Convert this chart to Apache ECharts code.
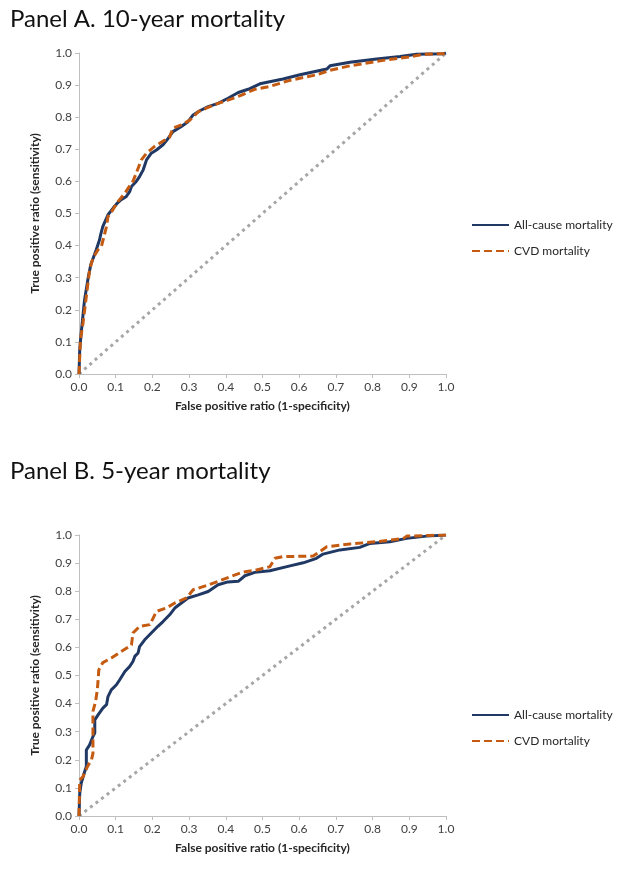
<!DOCTYPE html>
<html>
<head>
<meta charset="utf-8">
<script src="https://cdn.jsdelivr.net/npm/echarts@6/dist/echarts.min.js"></script>
<style>
  html, body { margin: 0; padding: 0; background: #fff; }
  #chart { width: 622px; height: 870px; }
</style>
</head>
<body>
<div id="chart"></div>
<script>
// ROC points, [1-specificity, sensitivity]
var allCauseA = [[0,0],[0.002,0.076],[0.006,0.128],[0.015,0.23],[0.025,0.30],[0.032,0.34],[0.047,0.387],
  [0.056,0.418],[0.059,0.434],[0.065,0.46],[0.079,0.496],[0.093,0.517],[0.106,0.534],[0.115,0.543],
  [0.129,0.553],[0.138,0.568],[0.143,0.584],[0.156,0.60],[0.165,0.615],[0.175,0.636],[0.184,0.667],
  [0.197,0.688],[0.211,0.698],[0.229,0.714],[0.243,0.734],[0.256,0.755],[0.279,0.771],[0.297,0.786],
  [0.311,0.807],[0.329,0.82],[0.352,0.833],[0.379,0.843],[0.406,0.859],[0.434,0.877],[0.461,0.887],
  [0.493,0.904],[0.556,0.919],[0.602,0.932],[0.675,0.95],[0.684,0.96],[0.738,0.971],[0.811,0.981],
  [0.875,0.989],[0.92,0.996],[0.993,0.998],[1,1]];
var cvdA = [[0,0],[0.004,0.107],[0.011,0.159],[0.02,0.242],[0.029,0.325],[0.038,0.361],[0.052,0.387],
  [0.061,0.397],[0.068,0.428],[0.075,0.46],[0.079,0.49],[0.093,0.513],[0.106,0.537],[0.125,0.563],
  [0.134,0.579],[0.147,0.60],[0.156,0.626],[0.17,0.667],[0.184,0.688],[0.206,0.709],[0.234,0.729],
  [0.247,0.738],[0.256,0.766],[0.279,0.776],[0.302,0.791],[0.325,0.817],[0.347,0.828],[0.379,0.843],
  [0.406,0.853],[0.443,0.869],[0.479,0.887],[0.52,0.896],[0.575,0.915],[0.647,0.932],[0.684,0.946],
  [0.738,0.96],[0.829,0.977],[0.902,0.988],[0.938,0.996],[0.993,0.998],[1,1]];
var allCauseB = [[0,0],[0.002,0.081],[0.006,0.116],[0.014,0.152],[0.02,0.176],[0.02,0.235],[0.029,0.253],
  [0.038,0.283],[0.043,0.295],[0.043,0.342],[0.052,0.36],[0.065,0.384],[0.075,0.396],[0.079,0.425],
  [0.088,0.449],[0.102,0.467],[0.111,0.485],[0.125,0.514],[0.138,0.532],[0.147,0.55],[0.152,0.568],
  [0.161,0.58],[0.165,0.603],[0.179,0.627],[0.197,0.651],[0.215,0.675],[0.229,0.692],[0.247,0.716],
  [0.261,0.74],[0.279,0.758],[0.297,0.776],[0.325,0.787],[0.352,0.799],[0.379,0.823],[0.406,0.833],
  [0.434,0.835],[0.452,0.855],[0.479,0.867],[0.52,0.873],[0.575,0.89],[0.611,0.901],[0.647,0.917],
  [0.665,0.932],[0.711,0.947],[0.765,0.956],[0.793,0.97],[0.847,0.976],[0.893,0.988],[0.947,0.996],[1,1]];
var cvdB = [[0,0],[0.002,0.128],[0.011,0.14],[0.023,0.176],[0.034,0.20],[0.038,0.223],[0.038,0.372],
  [0.045,0.407],[0.05,0.449],[0.054,0.52],[0.065,0.546],[0.088,0.562],[0.115,0.585],[0.143,0.609],
  [0.147,0.651],[0.165,0.675],[0.193,0.681],[0.202,0.704],[0.211,0.728],[0.238,0.74],[0.261,0.758],
  [0.293,0.776],[0.311,0.805],[0.347,0.82],[0.379,0.835],[0.415,0.853],[0.447,0.868],[0.479,0.874],
  [0.52,0.887],[0.534,0.917],[0.556,0.923],[0.638,0.925],[0.656,0.941],[0.675,0.958],[0.738,0.968],
  [0.811,0.976],[0.884,0.988],[0.893,0.996],[1,1]];
var diagonal = [[0,0],[1,1]];

var seriesNames = ['All-cause mortality', 'CVD mortality'];
var panelTitles = ['Panel A. 10-year mortality', 'Panel B. 5-year mortality'];
var xName = 'False positive ratio (1-specificity)';
var yName = 'True positive ratio (sensitivity)';

var font = 'Lato, "Open Sans", sans-serif';
var blue = '#203864', orange = '#c55a11';

function axis(gi, isY) {
  return {
    type: 'value', gridIndex: gi, min: 0, max: 1, interval: 0.1,
    name: isY ? yName : xName,
    nameLocation: 'middle',
    nameGap: isY ? 38 : 26,
    nameTextStyle: { fontFamily: font, fontWeight: 'bold', fontSize: 12, color: '#262626' },
    axisLine: { lineStyle: { color: '#bfbfbf', width: 1 } },
    axisTick: { show: true, length: 4, lineStyle: { color: '#bfbfbf' } },
    splitLine: { show: false },
    axisLabel: { fontFamily: font, fontSize: 12, color: '#404040', margin: 7,
      formatter: function (v) { return v.toFixed(1); } }
  };
}

function roc(name, data, gi, color, dashed) {
  return {
    name: name, type: 'line', data: data, xAxisIndex: gi, yAxisIndex: gi,
    symbol: 'circle', symbolSize: 0, showSymbol: false, z: dashed ? 4 : 3,
    lineStyle: { color: color, width: 3, type: dashed ? [8, 4] : 'solid' },
    itemStyle: { color: color, opacity: 0 }
  };
}

function diag(gi) {
  return {
    type: 'line', data: diagonal, xAxisIndex: gi, yAxisIndex: gi, symbol: 'none', z: 1,
    lineStyle: { color: '#a6a6a6', width: 3, type: [3, 4] }, silent: true
  };
}

function legend(top) {
  return {
    data: seriesNames, orient: 'vertical', left: 466, top: top, itemGap: 14,
    itemWidth: 37, itemHeight: 4,
    textStyle: { fontFamily: font, fontSize: 12, color: '#262626' }
  };
}

var chart = echarts.init(document.getElementById('chart'), null, { renderer: 'canvas' });
chart.setOption({
  backgroundColor: '#fff',
  animation: false,
  title: [
    { text: panelTitles[0], left: 5, top: 2, textStyle: { fontFamily: font, fontWeight: 'normal', fontSize: 24, color: '#111' } },
    { text: panelTitles[1], left: 5, top: 454, textStyle: { fontFamily: font, fontWeight: 'normal', fontSize: 24, color: '#111' } }
  ],
  legend: [legend(214), legend(704)],
  grid: [
    { left: 79, top: 53, width: 367, height: 321 },
    { left: 79, top: 535, width: 367, height: 281 }
  ],
  xAxis: [axis(0, false), axis(1, false)],
  yAxis: [axis(0, true), axis(1, true)],
  series: [
    diag(0), diag(1),
    roc(seriesNames[0], allCauseA, 0, blue, false),
    roc(seriesNames[1], cvdA, 0, orange, true),
    roc(seriesNames[0], allCauseB, 1, blue, false),
    roc(seriesNames[1], cvdB, 1, orange, true)
  ]
});
</script>
</body>
</html>
